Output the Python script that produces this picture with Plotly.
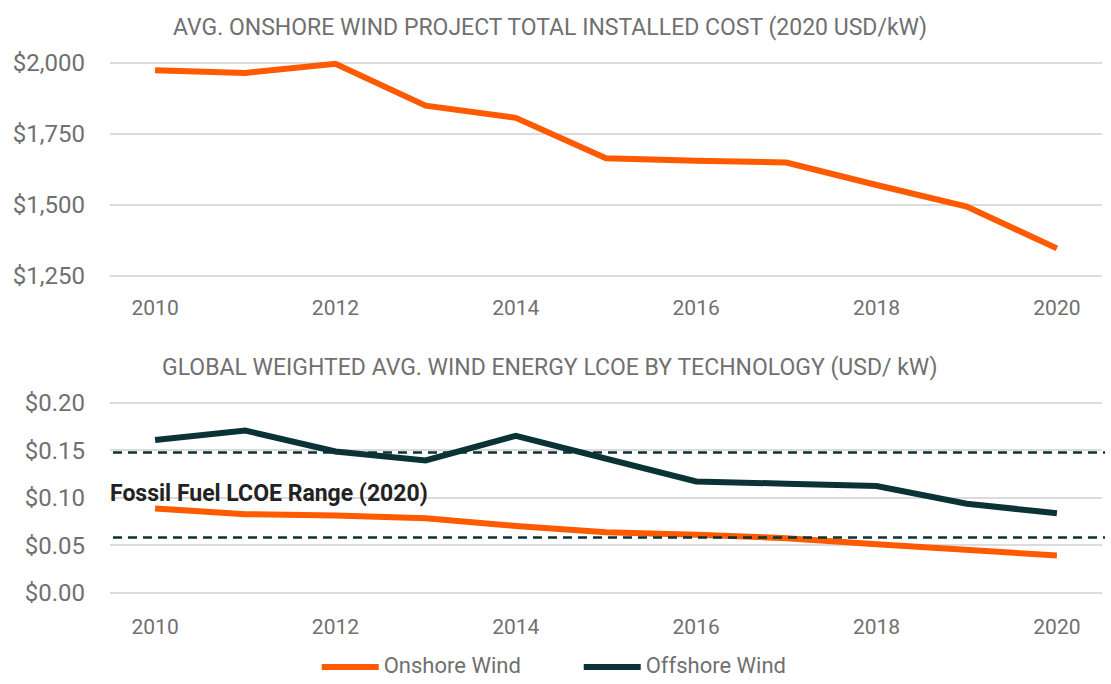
import plotly.graph_objects as go
from plotly.subplots import make_subplots

years = list(range(2010, 2021))
installed_cost = [1973, 1964, 1996, 1849, 1806, 1664, 1655, 1649, 1570, 1494, 1347]
onshore_lcoe = [0.089, 0.083, 0.0815, 0.0787, 0.0706, 0.064, 0.0612, 0.0577, 0.0514, 0.0455, 0.0395]
offshore_lcoe = [0.161, 0.171, 0.149, 0.1396, 0.1655, 0.142, 0.1174, 0.115, 0.1126, 0.0939, 0.084]
fossil_range = [0.0584, 0.148]

series_names = ["Onshore Wind", "Offshore Wind"]
top_title = "AVG. ONSHORE WIND PROJECT TOTAL INSTALLED COST (2020 USD/kW)"
bottom_title = "GLOBAL WEIGHTED AVG. WIND ENERGY LCOE BY TECHNOLOGY (USD/ kW)"
fossil_label = "Fossil Fuel LCOE Range (2020)"
top_ticks = [1250, 1500, 1750, 2000]
top_ticktext = ["$1,250", "$1,500", "$1,750", "$2,000"]
bottom_ticks = [0, 0.05, 0.10, 0.15, 0.20]
bottom_ticktext = ["$0.00", "$0.05", "$0.10", "$0.15", "$0.20"]
x_ticks = [2010, 2012, 2014, 2016, 2018, 2020]

ORANGE = "#FF5A00"
DARK = "#0B3336"
GRAY = "#707070"
GRID = "#DCDCDC"
FONT = "Roboto"


def legend_name(s):
    return "<span style='font-size:22px'>" + s + "</span>"


fig = make_subplots(rows=2, cols=1)

fig.add_trace(go.Scatter(x=years, y=installed_cost, mode="lines",
                         line=dict(color=ORANGE, width=6), showlegend=False),
              row=1, col=1)
fig.add_trace(go.Scatter(x=years, y=onshore_lcoe, mode="lines",
                         name=legend_name(series_names[0]),
                         line=dict(color=ORANGE, width=6)), row=2, col=1)
fig.add_trace(go.Scatter(x=years, y=offshore_lcoe, mode="lines",
                         name=legend_name(series_names[1]),
                         line=dict(color=DARK, width=6)), row=2, col=1)

for v in fossil_range:
    fig.add_shape(type="line", xref="x2 domain", yref="y2", x0=0.003, x1=1.003,
                  y0=v, y1=v, line=dict(color=DARK, width=2.5, dash="9px,6px"))

axis_common = dict(showline=False, zeroline=False, ticks="", automargin=False)

fig.update_xaxes(range=[2009.5, 2020.5], tickvals=x_ticks, showgrid=False,
                 tickfont=dict(family=FONT, size=21, color=GRAY), **axis_common)
fig.update_yaxes(showgrid=True, gridcolor=GRID, gridwidth=2,
                 ticklabelstandoff=24, tickfont=dict(family=FONT, size=24, color=GRAY),
                 **axis_common)

fig.update_layout(
    xaxis=dict(domain=[0, 1], ticklabelstandoff=11),
    xaxis2=dict(domain=[0, 1], ticklabelstandoff=14),
    yaxis=dict(domain=[0.5882, 0.9167], range=[1230, 2020], tickmode="array",
               tickvals=top_ticks, ticktext=top_ticktext),
    yaxis2=dict(domain=[0.1261, 0.4178], range=[-0.005, 0.205], tickmode="array",
                tickvals=bottom_ticks, ticktext=bottom_ticktext),
)

fig.add_annotation(text=top_title, xref="paper", yref="paper", x=0.4435, y=0.9605,
                   showarrow=False, xanchor="center", yanchor="middle",
                   font=dict(family=FONT, size=23, color=GRAY))
fig.add_annotation(text=bottom_title, xref="paper", yref="paper", x=0.4435, y=0.462,
                   showarrow=False, xanchor="center", yanchor="middle",
                   font=dict(family=FONT, size=23, color=GRAY))
fig.add_annotation(text="<b>" + fossil_label + "</b>", xref="x2 domain", yref="y2",
                   x=-0.002, y=0.1045, showarrow=False, xanchor="left", yanchor="middle",
                   font=dict(family=FONT, size=23, color="#222222"))

fig.update_layout(
    width=1111, height=684,
    margin=dict(l=110, r=9, t=0, b=0),
    paper_bgcolor="white", plot_bgcolor="white",
    font=dict(family=FONT, color=GRAY),
    showlegend=True,
    legend=dict(orientation="h", x=0.2084, xanchor="left", y=0, yanchor="bottom",
                font=dict(family=FONT, size=16, color=GRAY),
                itemwidth=57, entrywidth=190, entrywidthmode="pixels",
                bgcolor="rgba(0,0,0,0)"),
    hovermode=False,
)

fig.write_html(
    "out.html",
    config={"displayModeBar": False},
    post_script=("document.documentElement.style.margin='0';"
                 "document.documentElement.style.overflow='hidden';"
                 "document.body.style.margin='0';"
                 "document.body.style.overflow='hidden';"),
)
